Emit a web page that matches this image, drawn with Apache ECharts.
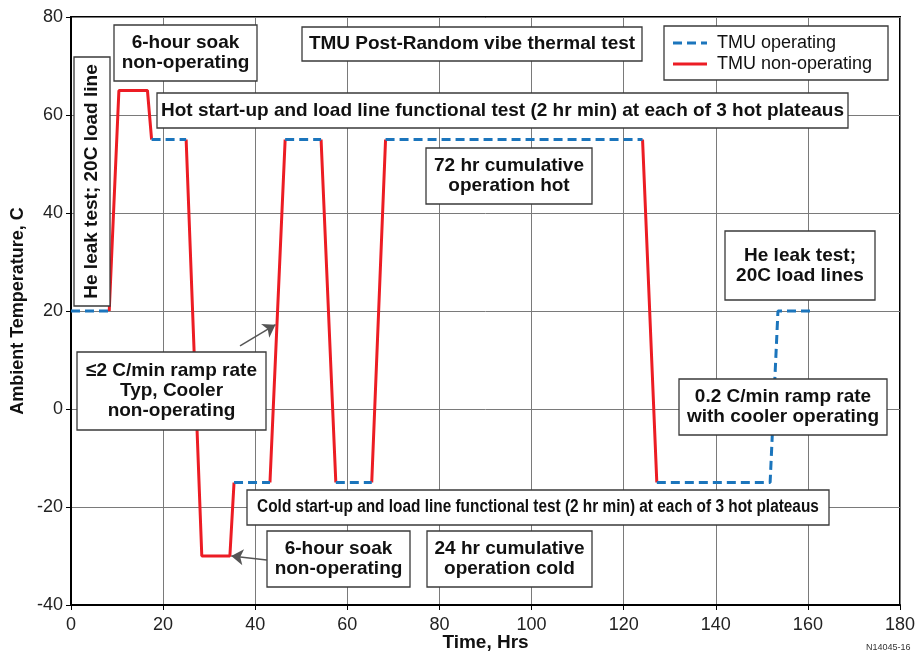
<!DOCTYPE html>
<html>
<head>
<meta charset="utf-8">
<script src="https://cdn.jsdelivr.net/npm/echarts@6/dist/echarts.min.js"></script>
<style>
  html, body { margin: 0; padding: 0; background: #fff; }
  #main { width: 918px; height: 653px; }
</style>
</head>
<body>
<div id="main"></div>
<script>
// time (hrs) / temperature (C) paths; null breaks a line into segments
var opTime  = [0, 8.3, null, 17.5, 25, null, 35.4, 43.2, null, 46.5, 54.3, null, 57.5, 65.3, null, 68.3, 124.1, null, 127.2, 151.8, 153.5, 161.5];
var opTemp  = [20, 20, null, 55, 55, null, -15, -15, null, 55, 55, null, -15, -15, null, 55, 55, null, -15, -15, 20, 20];
var nonTime = [8.3, 10.4, 16.6, 17.5, null, 25, 28.4, 34.5, 35.4, null, 43.2, 46.5, null, 54.3, 57.5, null, 65.3, 68.3, null, 124.1, 127.2];
var nonTemp = [20, 65, 65, 55, null, 55, -30, -30, -15, null, -15, 55, null, 55, -15, null, -15, 55, null, 55, -15];
var xTicks = [0, 20, 40, 60, 80, 100, 120, 140, 160, 180];
var yTicks = [-40, -20, 0, 20, 40, 60, 80];
var seriesNames = ['TMU operating', 'TMU non-operating'];

var BLUE = '#1b75bc', RED = '#ec1c24';
var FONT = '"Liberation Sans", Arial, sans-serif';

function toData(ts, vs) {
    return ts.map(function(t, i) {
        return t === null ? ['-', '-'] : [t, vs[i]];
    });
}

function box(l, t, w, h, text, opts) {
    opts = opts || {};
    var fs = opts.fontSize || 19;
    return {
        type: 'group',
        children: [
            { type: 'rect', z: 100, shape: { x: l, y: t, width: w, height: h },
              style: { fill: '#fff', stroke: '#3a3a3a', lineWidth: 1.3 } },
            { type: 'text', z: 101, x: l + w / 2, y: t + h / 2,
              rotation: opts.rotation || 0, scaleX: opts.scaleX || 1,
              style: { text: text, x: 0, y: 0, textAlign: 'center', textVerticalAlign: 'middle',
                       font: 'bold ' + fs + 'px ' + FONT, lineHeight: opts.lineHeight || 20, fill: '#111' } }
        ]
    };
}

function legendBox(l, t) {
    var items = [];
    items.push({ type: 'rect', z: 100, shape: { x: l, y: t, width: 224, height: 54 },
                 style: { fill: '#fff', stroke: '#3a3a3a', lineWidth: 1.3 } });
    var styles = [{ stroke: BLUE, lineWidth: 3, lineDash: [9, 5] }, { stroke: RED, lineWidth: 3 }];
    seriesNames.forEach(function(name, i) {
        var cy = t + 17 + i * 21;
        items.push({ type: 'line', z: 101, shape: { x1: l + 9, y1: cy, x2: l + 43, y2: cy }, style: styles[i] });
        items.push({ type: 'text', z: 101, x: l + 53, y: cy,
                     style: { text: name, textVerticalAlign: 'middle', font: '18px ' + FONT, fill: '#111' } });
    });
    return { type: 'group', children: items };
}

var myChart = echarts.init(document.getElementById('main'));

var option = {
    animation: false,
    grid: { left: 71, right: 18, top: 17, bottom: 48, outerBoundsMode: 'none', containLabel: false,
            show: true, borderColor: '#000', borderWidth: 2 },
    xAxis: {
        type: 'value', min: xTicks[0], max: xTicks[xTicks.length - 1], interval: 20,
        name: 'Time, Hrs', nameLocation: 'middle', nameGap: 28, nameMoveOverlap: false,
        nameTextStyle: { fontFamily: FONT, fontWeight: 'bold', fontSize: 19, color: '#111' },
        axisLine: { onZero: false, lineStyle: { color: '#000', width: 2 } },
        axisTick: { show: true, length: 5, lineStyle: { color: '#000' } },
        axisLabel: { fontFamily: FONT, fontSize: 18, color: '#222', margin: 11 },
        splitLine: { lineStyle: { color: '#7a7a7a', width: 1 } }
    },
    yAxis: {
        type: 'value', min: yTicks[0], max: yTicks[yTicks.length - 1], interval: 20,
        name: 'Ambient Temperature, C', nameLocation: 'middle', nameGap: 44, nameMoveOverlap: false,
        nameTextStyle: { fontFamily: FONT, fontWeight: 'bold', fontSize: 18, color: '#111' },
        axisLine: { onZero: false, lineStyle: { color: '#000', width: 2 } },
        axisTick: { show: true, length: 5, lineStyle: { color: '#000' } },
        axisLabel: { fontFamily: FONT, fontSize: 18, color: '#222', margin: 8 },
        splitLine: { lineStyle: { color: '#7a7a7a', width: 1 } }
    },
    series: [
        {
            name: seriesNames[1], type: 'line', symbol: 'none', connectNulls: false,
            lineStyle: { color: RED, width: 3 }, itemStyle: { color: RED },
            data: toData(nonTime, nonTemp),
            markLine: {
                silent: true, symbol: ['none', 'arrow'], symbolSize: 12,
                lineStyle: { color: '#555', width: 1.5, type: 'solid' },
                label: { show: false },
                data: [
                    [{ coord: [36.7, 12.9] }, { coord: [44.4, 17.2] }],
                    [{ coord: [42.5, -30.8] }, { coord: [34.8, -30] }]
                ]
            }
        },
        {
            name: seriesNames[0], type: 'line', symbol: 'none', connectNulls: false,
            lineStyle: { color: BLUE, width: 3, type: [9, 5] }, itemStyle: { color: BLUE },
            data: toData(opTime, opTemp)
        }
    ],
    graphic: [
        box(74, 57, 36, 249, 'He leak test; 20C load line', { rotation: Math.PI / 2 }),
        box(114, 25, 143, 56, '6-hour soak\nnon-operating'),
        box(302, 27, 340, 34, 'TMU Post-Random vibe thermal test'),
        legendBox(664, 26),
        box(157, 93, 691, 35, 'Hot start-up and load line functional test (2 hr min) at each of 3 hot plateaus'),
        box(426, 148, 166, 56, '72 hr cumulative\noperation hot'),
        box(725, 231, 150, 69, 'He leak test;\n20C load lines'),
        box(77, 352, 189, 78, '\u22642 C/min ramp rate\nTyp, Cooler\nnon-operating'),
        box(679, 379, 208, 56, '0.2 C/min ramp rate\nwith cooler operating'),
        box(247, 490, 582, 35, 'Cold start-up and load line functional test (2 hr min) at each of 3 hot plateaus', { scaleX: 0.855, fontSize: 18 }),
        box(267, 531, 143, 56, '6-hour soak\nnon-operating'),
        box(427, 531, 165, 56, '24 hr cumulative\noperation cold'),
        { type: 'text', left: 866, top: 643, z: 100,
          style: { text: 'N14045-16', font: '9px ' + FONT, fill: '#333' } }
    ]
};
myChart.setOption(option);
</script>
</body>
</html>
